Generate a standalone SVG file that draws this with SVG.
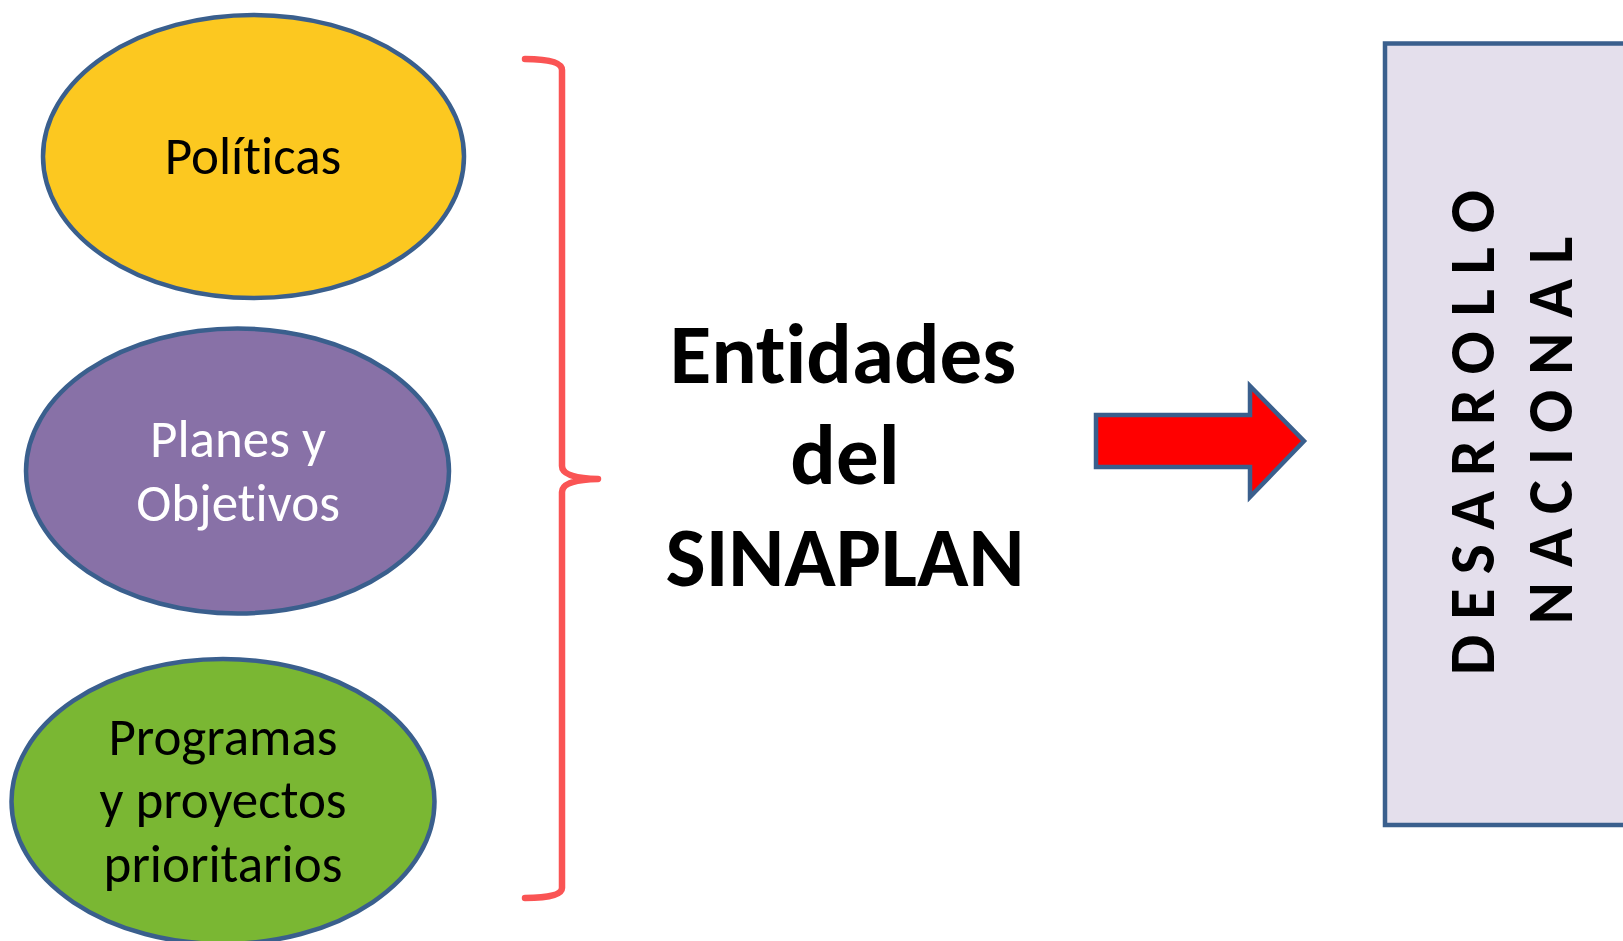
<svg xmlns="http://www.w3.org/2000/svg" width="1623" height="941" viewBox="0 0 1623 941">
<style>
text{font-variant-ligatures:none;font-feature-settings:"liga" 0,"clig" 0}
.node{stroke:#3A5F8D;stroke-width:4.5}
.lbl{font-family:Carlito,Calibri,Lato,"Liberation Sans",sans-serif;font-size:53px;text-anchor:middle}
.big{font-family:Carlito,Calibri,Lato,"Liberation Sans",sans-serif;font-size:85px;font-weight:bold;text-anchor:middle;fill:#000}
.vert{font-family:Carlito,Calibri,Lato,"Liberation Sans",sans-serif;font-size:64px;font-weight:bold;text-anchor:middle;fill:#000;letter-spacing:15px}
</style>
<rect width="1623" height="941" fill="#FFFFFF"/>
<g id="politicas">
<ellipse class="node" cx="253.5" cy="156.5" rx="210.5" ry="141.5" fill="#FCC820"/>
<text class="lbl" x="253" y="174" fill="#000">Políticas</text>
</g>
<g id="planes">
<ellipse class="node" cx="237.5" cy="471" rx="211.5" ry="142.5" fill="#8871A7"/>
<text class="lbl" x="238" y="457" fill="#FFFFFF">Planes y</text>
<text class="lbl" x="238" y="521" fill="#FFFFFF">Objetivos</text>
</g>
<g id="programas">
<ellipse class="node" cx="223" cy="801.5" rx="211.5" ry="142.5" fill="#7AB733"/>
<text class="lbl" x="223" y="755" fill="#000">Programas</text>
<text class="lbl" x="223" y="818" fill="#000">y proyectos</text>
<text class="lbl" x="223" y="882" fill="#000">prioritarios</text>
</g>
<g id="entidades">
<text class="big" x="843" y="383">Entidades</text>
<text class="big" x="845" y="484">del</text>
<text class="big" x="845" y="586">SINAPLAN</text>
</g>
<g id="desarrollo">
<rect x="1385" y="43.5" width="250" height="781.5" fill="#E4DFEC" stroke="#3A5F8D" stroke-width="4.5"/>
<text class="vert" transform="translate(1494,425) rotate(-90)">DESARROLLO</text>
<text class="vert" transform="translate(1572,423) rotate(-90)">NACIONAL</text>
</g>
<g id="connectors">
<path d="M525,59 Q562,59 562,70 L562,466 Q562,478 598,479 Q562,480 562,492 L562,888 Q562,898 525,898" fill="none" stroke="#FA5454" stroke-width="6.5" stroke-linecap="round" stroke-linejoin="round"/>
<path d="M1096,415 L1250,415 L1250,386 L1304,441 L1250,497 L1250,467 L1096,467 Z" fill="#FF0000" stroke="#3A5F8D" stroke-width="4.5"/>
</g>
</svg>
